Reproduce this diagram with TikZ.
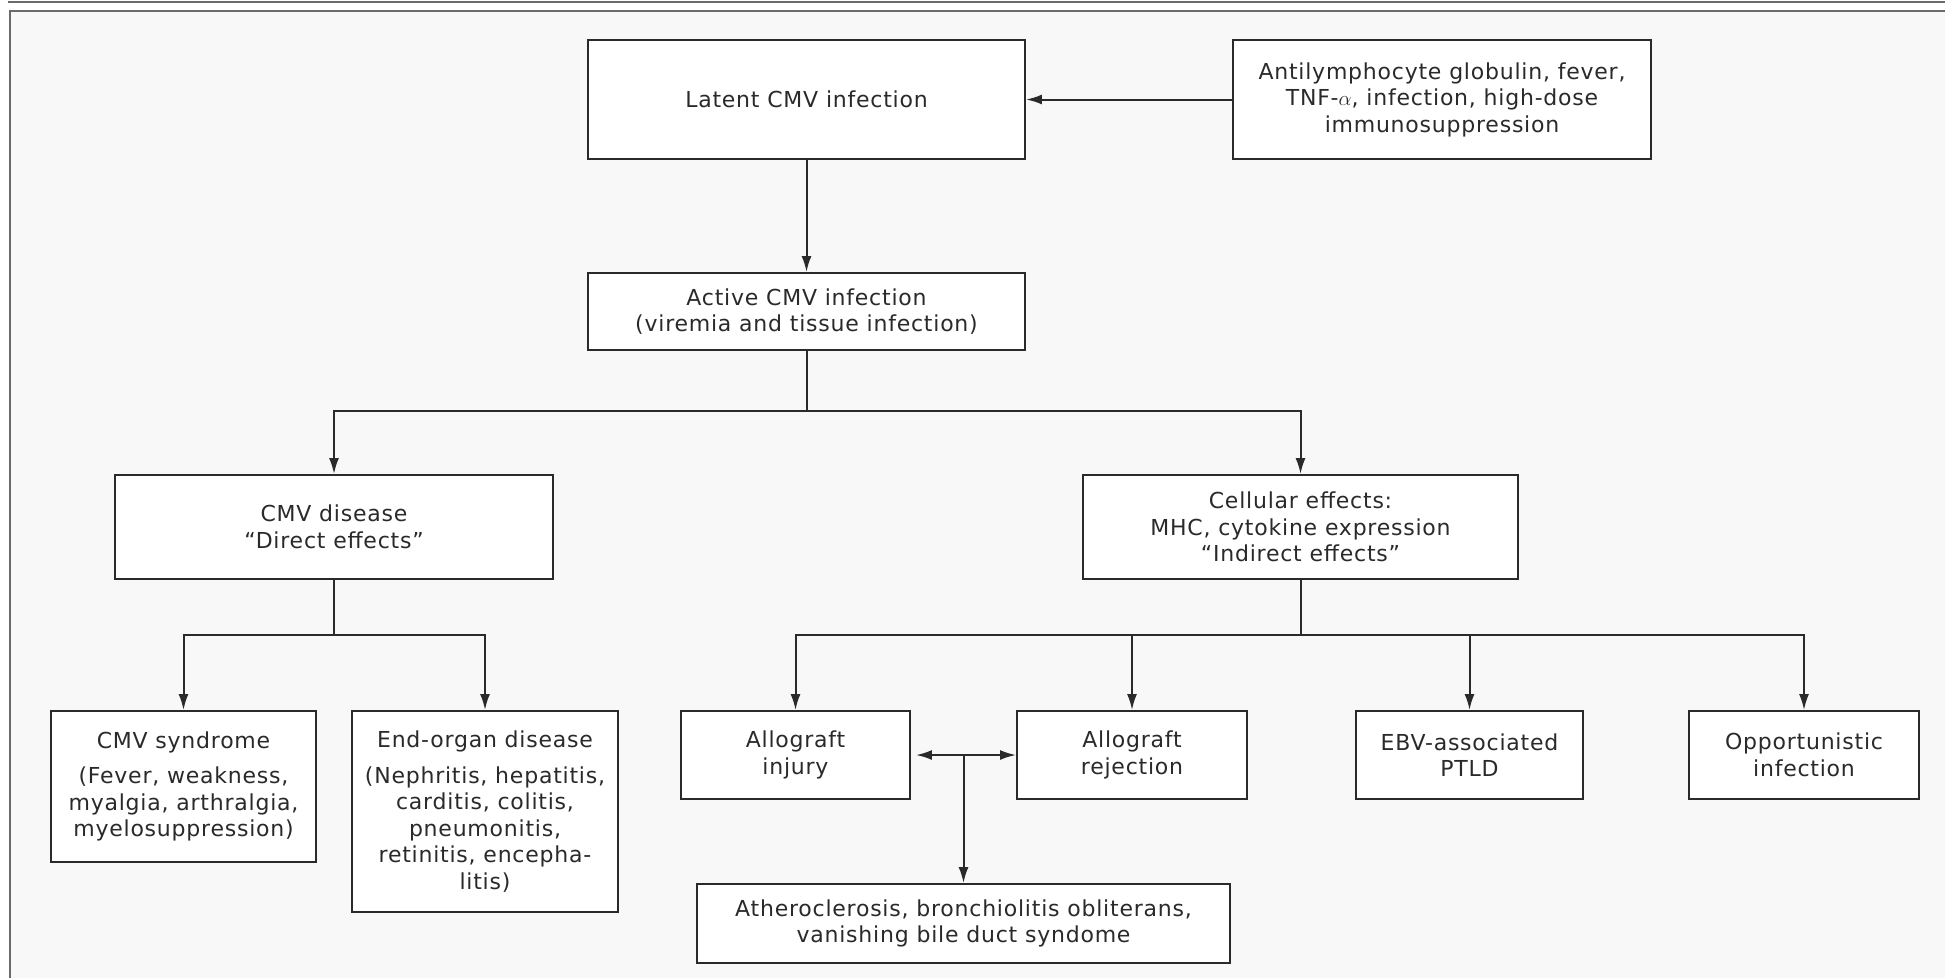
\documentclass[tikz,border=0pt]{standalone}
\usepackage{fontspec}
\setmainfont[LetterSpace=3.5]{DejaVu Sans}
\usetikzlibrary{arrows.meta}
\definecolor{ink}{HTML}{2A2A2A}
\definecolor{panel}{HTML}{F8F8F8}
\definecolor{rule}{HTML}{6A6A6A}
\begin{document}
\begin{tikzpicture}[x=1pt,y=-1pt,
  box/.style={draw=ink, line width=1.9pt, fill=white, align=center, inner sep=0pt,
    font=\fontsize{22}{26.5}\selectfont, text=ink},
  conn/.style={line width=2pt, draw=ink},
  arr/.style={conn, -{Latex[length=16pt,width=10pt]}},
  darr/.style={conn, {Latex[length=16pt,width=10pt]}-{Latex[length=16pt,width=10pt]}}]
\useasboundingbox (0,0) rectangle (1945,978);
\fill[white] (0,0) rectangle (1945,978);
\draw[line width=2pt, rule] (8,2) -- (1945,2);
\fill[panel] (10,11) rectangle (1945,978);
\draw[line width=2.5pt, rule] (10,978) -- (10,11) -- (1945,11);

\node[box, minimum width=437pt, minimum height=119pt] (latent) at (806.5,99.5) {Latent CMV infection};
\node[box, minimum width=418pt, minimum height=119pt] (anti) at (1442,99.5)
  {Antilymphocyte globulin, fever,\\ TNF-$\alpha$, infection, high-dose\\ immunosuppression};
\node[box, minimum width=437pt, minimum height=77pt] (active) at (806.5,311.5)
  {Active CMV infection\\ (viremia and tissue infection)};
\node[box, minimum width=438pt, minimum height=104pt] (cmvd) at (334,527)
  {CMV disease\\ “Direct effects”};
\node[box, minimum width=435pt, minimum height=104pt] (cell) at (1300.5,527)
  {Cellular effects:\\ MHC, cytokine expression\\ “Indirect effects”};
\node[box, minimum width=265pt, minimum height=151pt] (synd) at (183.5,786.5)
  {CMV syndrome\\[9pt] (Fever, weakness,\\ myalgia, arthralgia,\\ myelosuppression)};
\node[box, minimum width=266pt, minimum height=201pt] (organ) at (485,811.5)
  {End-organ disease\\[9pt] (Nephritis, hepatitis,\\ carditis, colitis,\\ pneumonitis,\\ retinitis, encepha-\\ litis)};
\node[box, minimum width=229pt, minimum height=88pt] (injury) at (795.5,755)
  {Allograft\\ injury};
\node[box, minimum width=230pt, minimum height=88pt] (reject) at (1132,755)
  {Allograft\\ rejection};
\node[box, minimum width=227pt, minimum height=88pt] (ebv) at (1469.5,755)
  {EBV-associated\\ PTLD};
\node[box, minimum width=230pt, minimum height=88pt] (opp) at (1804,755)
  {Opportunistic\\ infection};
\node[box, minimum width=533pt, minimum height=79pt] (athero) at (963.5,923.5)
  {Atheroclerosis, bronchiolitis obliterans,\\ vanishing bile duct syndome};

\draw[arr] (anti.west) -- (latent.east);
\draw[arr] (latent.south) -- (active.north);

\coordinate (j1) at (806.5,411);
\draw[conn] (active.south) -- (j1);
\draw[arr] (j1) -| (cmvd.north);
\draw[arr] (j1) -| (cell.north);

\coordinate (j2) at (334,635);
\draw[conn] (cmvd.south) -- (j2);
\draw[arr] (j2) -| (synd.north);
\draw[arr] (j2) -| (organ.north);

\coordinate (j3) at (1300.5,635);
\draw[conn] (cell.south) -- (j3);
\draw[arr] (j3) -| (injury.north);
\draw[arr] (j3) -| (reject.north);
\draw[arr] (j3) -| (ebv.north);
\draw[arr] (j3) -| (opp.north);

\draw[darr] ([xshift=5pt]injury.east) -- (reject.west);
\coordinate (m) at (athero.north |- injury.east);
\draw[arr] (m) -- (athero.north);
\end{tikzpicture}
\end{document}
